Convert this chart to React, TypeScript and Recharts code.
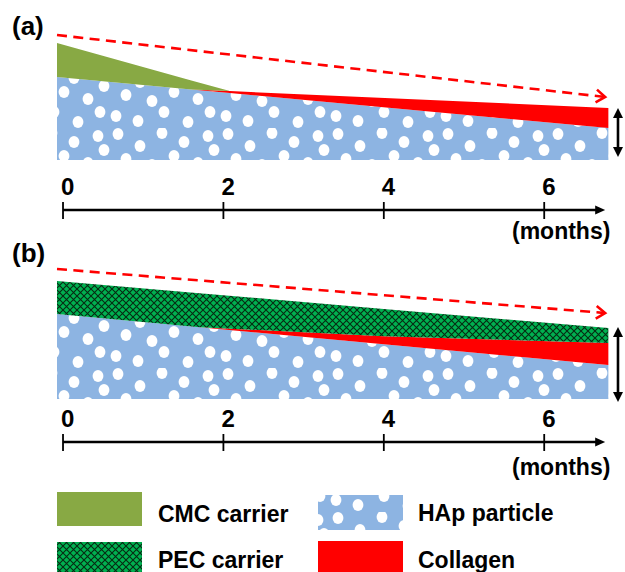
import React from 'react';
import { ComposedChart, Area, XAxis, YAxis, ReferenceLine } from 'recharts';

// ---------- data ----------
const tickMonths = [0, 2, 4, 6];
const axisEndMonth = 6.76;

// Panel (a): CMC carrier
const monthsA = [-0.075, 1.6, 2.08, 6.8];
const hapA = [83, 70.6, 67, 32];
const collagenA = [0, 0, 1.9, 20];
const cmcA = [34, 9, 0, 0];

// Panel (b): PEC carrier
const monthsB = [-0.075, 1.7, 4, 6.8];
const hapB = [85, 71.8, 54.8, 34];
const collagenB = [0, 0, 8, 22];
const pecB = [33, 34, 27.3, 15];

// dashed trend arrows
const trendMonths = [-0.075, 6.76];
const trendA = [125, 63];
const trendB = [130, 86];

// thickness gauge (double arrow)
const gaugeMonth = 6.92;
const gaugeA = [3, 52];
const gaugeB = [-3, 72];

const legendLabels = ['CMC carrier', 'HAp particle', 'PEC carrier', 'Collagen'];

// ---------- styles ----------
const FONT = '"Liberation Sans", Arial, Helvetica, sans-serif';
const C_CMC = '#88A944';
const C_HAP = '#8DB4E2';
const C_PEC = '#00B050';
const C_COL = '#FF0000';

const dotPos = [
  [8, 6], [30, 18], [52, 5], [74, 14], [98, 8],
  [16, 31], [42, 37], [64, 28], [88, 35], [104, 22],
  [6, 52], [28, 57], [54, 48], [78, 58], [100, 48],
];

const Defs = () => (
  <svg width={0} height={0} style={{ position: 'absolute' }}>
    <defs>
      <pattern id="hapDots" patternUnits="userSpaceOnUse" width={110} height={64}>
        <rect x={0} y={0} width={110} height={64} fill={C_HAP} />
        {dotPos.map(([x, y], i) => (
          <ellipse key={i} cx={x} cy={y} rx={5.4} ry={6} fill="#FFFFFF" />
        ))}
      </pattern>
      <pattern id="pecHatch" patternUnits="userSpaceOnUse" width={7} height={7}>
        <rect x={0} y={0} width={7} height={7} fill={C_PEC} />
        <path d="M0,0 L7,7 M7,0 L0,7" stroke="#062a12" strokeWidth={1.1} />
      </pattern>
    </defs>
  </svg>
);

const DashedArrow = (p: any) => {
  const { x1, y1, x2, y2 } = p;
  const ang = Math.atan2(y2 - y1, x2 - x1);
  const L = 11;
  const a = 0.62;
  const ax1 = x2 - L * Math.cos(ang - a);
  const ay1 = y2 - L * Math.sin(ang - a);
  const ax2 = x2 - L * Math.cos(ang + a);
  const ay2 = y2 - L * Math.sin(ang + a);
  return (
    <g>
      <line x1={x1} y1={y1} x2={x2 - 2 * Math.cos(ang)} y2={y2 - 2 * Math.sin(ang)} stroke={C_COL} strokeWidth={2.6} strokeDasharray="10 6.4" />
      <polyline points={`${ax1},${ay1} ${x2},${y2} ${ax2},${ay2}`} fill="none" stroke={C_COL} strokeWidth={2.6} />
    </g>
  );
};

const AxisArrow = (p: any) => {
  const { x1, y1, x2 } = p;
  return (
    <g>
      <line x1={x1} y1={y1} x2={x2 - 8} y2={y1} stroke="#000" strokeWidth={2.5} />
      <polygon points={`${x2},${y1} ${x2 - 10},${y1 - 4.5} ${x2 - 10},${y1 + 4.5}`} fill="#000" />
    </g>
  );
};

const DoubleArrow = (p: any) => {
  const { x1, y1, y2 } = p;
  const top = Math.min(y1, y2);
  const bot = Math.max(y1, y2);
  return (
    <g>
      <line x1={x1} y1={top + 8} x2={x1} y2={bot - 8} stroke="#000" strokeWidth={2.6} />
      <polygon points={`${x1},${top} ${x1 - 5},${top + 10} ${x1 + 5},${top + 10}`} fill="#000" />
      <polygon points={`${x1},${bot} ${x1 - 5},${bot - 10} ${x1 + 5},${bot - 10}`} fill="#000" />
    </g>
  );
};

const MonthTick = (p: any) => {
  const { x, y, payload } = p;
  return (
    <g>
      <line x1={x} x2={x} y1={y - 8} y2={y + 9} stroke="#000" strokeWidth={1.8} />
      <text x={x - 2} y={y - 15} fontSize={24} fontWeight="bold" fontFamily={FONT} fill="#000">
        {payload.value}
      </text>
    </g>
  );
};

type PanelProps = {
  months: number[];
  hap: number[];
  collagen: number[];
  carrier: number[];
  carrierFill: string;
  trend: number[];
  gauge: number[];
  yDomain: [number, number];
  top: number;
  height: number;
  marginTop: number;
};

const Panel = ({ months, hap, collagen, carrier, carrierFill, trend, gauge, yDomain, top, height, marginTop }: PanelProps) => {
  const data = months.map((m, i) => ({ m, hap: hap[i], collagen: collagen[i], carrier: carrier[i] }));
  const axisY = yDomain[0];
  return (
    <div style={{ position: 'absolute', left: 0, top }}>
      <ComposedChart width={625} height={height} data={data} margin={{ top: marginTop, right: 4.6, bottom: 10, left: 57 }}>
        <XAxis
          dataKey="m"
          type="number"
          domain={[-0.075, 6.95]}
          ticks={tickMonths}
          interval={0}
          axisLine={false}
          tickLine={false}
          tickSize={0}
          tickMargin={0}
          height={20}
          tick={<MonthTick />}
          allowDataOverflow
        />
        <YAxis hide type="number" domain={yDomain} allowDataOverflow />
        <Area type="linear" dataKey="hap" stackId="s" stroke="none" fill="url(#hapDots)" fillOpacity={1} isAnimationActive={false} dot={false} activeDot={false} />
        <Area type="linear" dataKey="collagen" stackId="s" stroke="none" fill={C_COL} fillOpacity={1} isAnimationActive={false} dot={false} activeDot={false} />
        <Area type="linear" dataKey="carrier" stackId="s" stroke="none" fill={carrierFill} fillOpacity={1} isAnimationActive={false} dot={false} activeDot={false} />
        <ReferenceLine
          segment={[{ x: trendMonths[0], y: trend[0] }, { x: trendMonths[1], y: trend[1] }]}
          ifOverflow="visible"
          shape={DashedArrow}
        />
        <ReferenceLine
          segment={[{ x: gaugeMonth, y: gauge[0] }, { x: gaugeMonth, y: gauge[1] }]}
          ifOverflow="visible"
          shape={DoubleArrow}
        />
        <ReferenceLine
          segment={[{ x: tickMonths[0], y: axisY }, { x: axisEndMonth, y: axisY }]}
          ifOverflow="visible"
          shape={AxisArrow}
        />
      </ComposedChart>
    </div>
  );
};

const Overlay = () => (
  <svg width={625} height={572} style={{ position: 'absolute', left: 0, top: 0, pointerEvents: 'none' }}>
    <g fontFamily={FONT} fontWeight="bold" fill="#000">
      <text x={12} y={35} fontSize={26}>(a)</text>
      <text x={12} y={262} fontSize={26}>(b)</text>
      <text x={512} y={238.5} fontSize={23}>(months)</text>
      <text x={512} y={475} fontSize={23}>(months)</text>
    </g>
    <rect x={57} y={492} width={85} height={34} fill={C_CMC} />
    <rect x={318} y={495} width={85} height={35} fill="url(#hapDots)" />
    <rect x={57} y={542} width={85} height={34} fill="url(#pecHatch)" />
    <rect x={318} y={541} width={85} height={34} fill={C_COL} />
    <g fontFamily={FONT} fontWeight="bold" fill="#000" fontSize={23}>
      <text x={158} y={522}>{legendLabels[0]}</text>
      <text x={418} y={521}>{legendLabels[1]}</text>
      <text x={158} y={568}>{legendLabels[2]}</text>
      <text x={418} y={568}>{legendLabels[3]}</text>
    </g>
  </svg>
);

export default function App() {
  return (
    <div style={{ position: 'fixed', left: 0, top: 0, width: 625, height: 572, background: '#fff', overflow: 'hidden' }}>
      <Defs />
      <Panel
        months={monthsA}
        hap={hapA}
        collagen={collagenA}
        carrier={cmcA}
        carrierFill={C_CMC}
        trend={trendA}
        gauge={gaugeA}
        yDomain={[-50, 130]}
        top={0}
        height={240}
        marginTop={30}
      />
      <Panel
        months={monthsB}
        hap={hapB}
        collagen={collagenB}
        carrier={pecB}
        carrierFill="url(#pecHatch)"
        trend={trendB}
        gauge={gaugeB}
        yDomain={[-43, 140]}
        top={240}
        height={232}
        marginTop={19}
      />
      <Overlay />
    </div>
  );
}
